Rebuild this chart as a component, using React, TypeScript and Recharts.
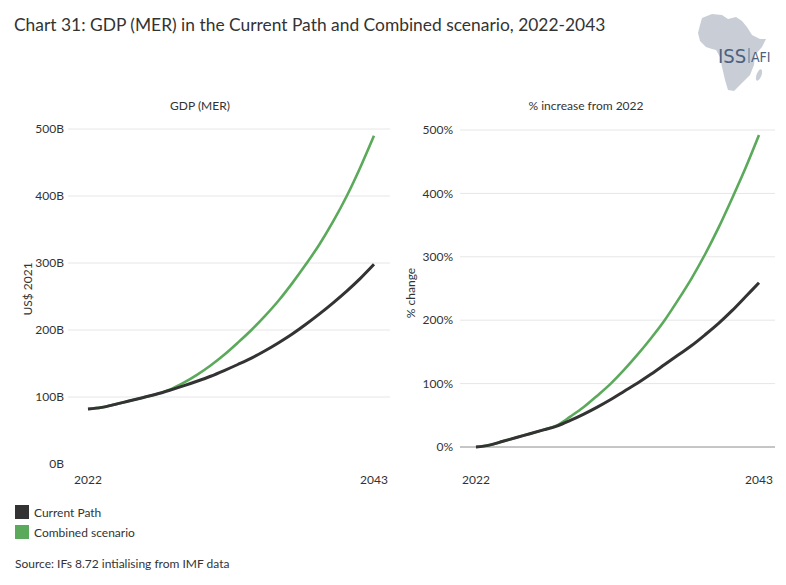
import React from "react";
import { CartesianGrid, Line, LineChart, ReferenceLine, XAxis, YAxis } from "recharts";

const FONT = "Lato, 'Open Sans', sans-serif";
const TEXT = "#333333";
const CURRENT_COLOR = "#333333";
const COMBINED_COLOR = "#5BAA5B";

const years = [
  2022, 2023, 2024, 2025, 2026, 2027, 2028, 2029, 2030, 2031, 2032, 2033, 2034, 2035, 2036, 2037, 2038, 2039, 2040,
  2041, 2042, 2043,
];

// GDP (MER), US$ 2021 billions
const gdpCurrentPath = [
  82, 84.5, 89, 94, 99, 104, 110, 116.5, 123.5, 131, 139.5, 148.5, 158, 169, 181, 194, 208.5, 224, 240.5, 258, 277, 298,
];
const gdpCombined = [
  82, 84.5, 89, 94, 99, 104, 111, 121, 133, 147, 163, 181, 200, 221, 244, 270, 298, 328, 362, 400, 443, 490,
];

// % increase from 2022
const pctCurrentPath = [0, 3, 9, 15, 21, 27, 33, 42, 52, 63, 75, 88, 101, 115, 130, 145, 160, 177, 195, 215, 237, 259];
const pctCombined = [0, 3, 9, 15, 21, 27, 34, 48, 63, 81, 100, 122, 146, 172, 200, 232, 266, 304, 346, 392, 440, 492];

const gdpTicks = [0, 100, 200, 300, 400, 500];
const pctTicks = [0, 100, 200, 300, 400, 500];
const yearTicks = [2022, 2043];

const gdpData = years.map((year, i) => ({ year, current: gdpCurrentPath[i], combined: gdpCombined[i] }));
const pctData = years.map((year, i) => ({ year, current: pctCurrentPath[i], combined: pctCombined[i] }));

const tickStyle = { fill: TEXT, fontSize: 12, fontFamily: FONT };

function AxisTitle({ x, y, text, rotate }: { x: number; y: number; text: string; rotate?: boolean }) {
  return (
    <div
      style={{
        position: "absolute",
        left: x,
        top: y,
        transform: `translate(-50%, -50%)${rotate ? " rotate(-90deg)" : ""}`,
        whiteSpace: "nowrap",
        fontSize: 12,
        color: TEXT,
      }}
    >
      {text}
    </div>
  );
}

function Logo() {
  return (
    <svg width={100} height={100} style={{ position: "absolute", left: 680, top: 5 }}>
      <path
        d="M22 13 L32 9 L42 10 L48 14 L56 12 L62 16 L67 22 L72 30 L80 34 L86 34 L82 42 L75 50 L74 60 L70 70 L62 78 L54 86 L48 85 L45 75 L42 62 L40 52 L36 45 L32 44 L26 42 L20 36 L18 28 L20 20 Z"
        fill="#c9ced6"
      />
      <ellipse cx={79} cy={70} rx={2.5} ry={6} fill="#c9ced6" transform="rotate(20 79 70)" />
      <text x={38} y={58} fontSize={20} fontFamily="'Liberation Sans Narrow', 'DejaVu Sans Condensed', sans-serif" fill="#4c6180">
        ISS
      </text>
      <line x1={69} y1={43} x2={69} y2={58} stroke="#4c6180" strokeWidth={0.8} />
      <text x={71} y={57} fontSize={14} fontFamily="'Liberation Sans Narrow', 'DejaVu Sans Condensed', sans-serif" fill="#4c6180">
        AFI
      </text>
    </svg>
  );
}

export default function App() {
  return (
    <div style={{ position: "relative", width: 786, height: 585, background: "#fff", fontFamily: FONT, color: TEXT }}>
      <style>{"body{margin:0}"}</style>

      <div style={{ position: "absolute", left: 14, top: 14, fontSize: 17.4, whiteSpace: "nowrap" }}>
        Chart 31: GDP (MER) in the Current Path and Combined scenario, 2022-2043
      </div>
      <Logo />

      <AxisTitle x={200} y={105} text="GDP (MER)" />
      <AxisTitle x={586} y={105} text="% increase from 2022" />
      <AxisTitle x={27} y={289} text="US$ 2021" rotate />
      <AxisTitle x={410} y={293} text="% change" rotate />

      <div style={{ position: "absolute", left: 0, top: 0 }}>
        <LineChart width={400} height={500} data={gdpData} margin={{ top: 129, right: 10, bottom: 6, left: 0 }}>
          <CartesianGrid vertical={false} stroke="#e6e6e6" horizontalValues={[100, 200, 300, 400, 500]} />
          <XAxis
            dataKey="year"
            type="number"
            domain={[2022, 2043]}
            ticks={yearTicks}
            padding={{ left: 20, right: 16 }}
            axisLine={false}
            tickLine={false}
            tickSize={0}
            tickMargin={11}
            height={30}
            tick={tickStyle}
          />
          <YAxis
            domain={[0, 500]}
            ticks={gdpTicks}
            tickFormatter={(v) => `${v}B`}
            axisLine={false}
            tickLine={false}
            tickSize={0}
            tickMargin={4}
            width={68}
            tick={tickStyle}
          />
          <Line type="monotone" dataKey="combined" stroke={COMBINED_COLOR} strokeWidth={2.6} dot={false} isAnimationActive={false} />
          <Line type="monotone" dataKey="current" stroke={CURRENT_COLOR} strokeWidth={3} dot={false} isAnimationActive={false} />
        </LineChart>
      </div>

      <div style={{ position: "absolute", left: 400, top: 0 }}>
        <LineChart width={386} height={500} data={pctData} margin={{ top: 130, right: 11, bottom: 23, left: 0 }}>
          <CartesianGrid vertical={false} stroke="#e6e6e6" horizontalValues={[100, 200, 300, 400, 500]} />
          <ReferenceLine y={0} stroke="#8c8c8c" strokeWidth={1} />
          <XAxis
            dataKey="year"
            type="number"
            domain={[2022, 2043]}
            ticks={yearTicks}
            padding={{ left: 16, right: 16 }}
            axisLine={false}
            tickLine={false}
            tickSize={0}
            tickMargin={28}
            height={30}
            tick={tickStyle}
          />
          <YAxis
            domain={[0, 500]}
            ticks={pctTicks}
            tickFormatter={(v) => `${v}%`}
            axisLine={false}
            tickLine={false}
            tickSize={0}
            tickMargin={7}
            width={60}
            tick={tickStyle}
          />
          <Line type="monotone" dataKey="combined" stroke={COMBINED_COLOR} strokeWidth={2.6} dot={false} isAnimationActive={false} />
          <Line type="monotone" dataKey="current" stroke={CURRENT_COLOR} strokeWidth={3} dot={false} isAnimationActive={false} />
        </LineChart>
      </div>

      <div style={{ position: "absolute", left: 15, top: 505, fontSize: 12 }}>
        <div style={{ display: "flex", alignItems: "center", height: 14, marginBottom: 6 }}>
          <span style={{ width: 14, height: 14, background: CURRENT_COLOR, marginRight: 5 }} />
          Current Path
        </div>
        <div style={{ display: "flex", alignItems: "center", height: 14 }}>
          <span style={{ width: 14, height: 14, background: COMBINED_COLOR, marginRight: 5 }} />
          Combined scenario
        </div>
      </div>

      <div style={{ position: "absolute", left: 15, top: 556, fontSize: 12, whiteSpace: "nowrap" }}>
        Source: IFs 8.72 intialising from IMF data
      </div>
    </div>
  );
}
